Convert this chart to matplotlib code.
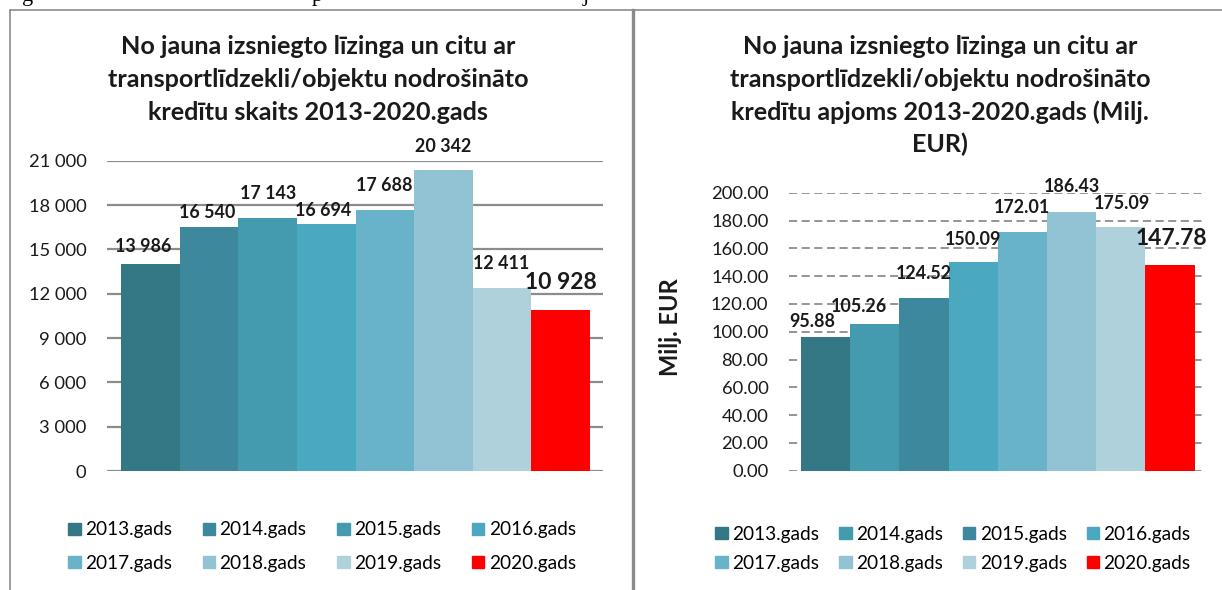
import matplotlib
matplotlib.use("Agg")
import matplotlib.pyplot as plt
from matplotlib.patches import Patch
from matplotlib.lines import Line2D

plt.rcParams["font.family"] = ["Lato", "DejaVu Sans"]

W, H = 1222, 590

years = ["2013.gads", "2014.gads", "2015.gads", "2016.gads",
         "2017.gads", "2018.gads", "2019.gads", "2020.gads"]
count_values = [13986, 16540, 17143, 16694, 17688, 20342, 12411, 10928]
volume_values = [95.88, 105.26, 124.52, 150.09, 172.01, 186.43, 175.09, 147.78]
count_labels = ["13 986", "16 540", "17 143", "16 694", "17 688", "20 342", "12 411", "10 928"]
volume_labels = ["95.88", "105.26", "124.52", "150.09", "172.01", "186.43", "175.09", "147.78"]
count_ticks = [0, 3000, 6000, 9000, 12000, 15000, 18000, 21000]
count_ticklabels = ["0", "3 000", "6 000", "9 000", "12 000", "15 000", "18 000", "21 000"]
volume_ticks = [0, 20, 40, 60, 80, 100, 120, 140, 160, 180, 200]

title_left = ["No jauna izsniegto līzinga un citu ar",
              "transportlīdzekli/objektu nodrošināto",
              "kredītu skaits 2013-2020.gads"]
title_right = ["No jauna izsniegto līzinga un citu ar",
               "transportlīdzekli/objektu nodrošināto",
               "kredītu apjoms 2013-2020.gads (Milj.",
               "EUR)"]

COL_LEFT = ["#347886", "#3d889c", "#449aaf", "#4aa8c0", "#69b3ca", "#92c3d4", "#aed1dc", "#ff0000"]
COL_RIGHT = ["#347886", "#449aaf", "#3d889c", "#4aa8c0", "#69b3ca", "#92c3d4", "#aed1dc", "#ff0000"]
TXT = "#1a1a1a"

# label offsets in pixels (dx, dy) - Excel nudged some of them
OFF_LEFT = [(-7, 18), (-2, 14), (0, 24), (-3, 14), (-1, 24), (0, 24), (-1, 24), (0, 27)]
OFF_RIGHT = [(-13, 16), (-16, 18), (0, 24), (0, 23), (0, 24), (0, 25), (1, 24), (1, 27)]


def box(x0, y0, x1, y1):
    return [x0 / W, 1 - y1 / H, (x1 - x0) / W, (y1 - y0) / H]


fig = plt.figure(figsize=(W / 100, H / 100), dpi=100)
renderer = fig.canvas.get_renderer()


def fit(s, target, **kw):
    # font size that makes string s about target pixels wide
    t = fig.text(0, 0, s, fontsize=10, **kw)
    w = t.get_window_extent(renderer).width
    t.remove()
    return 10 * target / w


fs_title = fit(title_left[1], 422, fontweight="bold")
fs_tick = fit("21 000", 58)
fs_lab = fit("13 986", 56, fontweight="bold")
fs_big = fit("10 928", 72, fontweight="bold")
fs_leg = fit("2013.gads", 86.5)
fs_ylab = fit("Milj. EUR", 98, fontweight="bold")

# frame lines from the document
fig.add_artist(Line2D([10 / W, 1], [1 - 10 / H, 1 - 10 / H], color="#8c8c8c", lw=1.2))
fig.add_artist(Line2D([10 / W, 10 / W], [0, 1 - 10 / H], color="#8c8c8c", lw=1.2))
fig.add_artist(Line2D([633 / W, 633 / W], [0, 1 - 10 / H], color="#8a8a8a", lw=2.4))
for ch, xp in [("g", 22), ("p", 312), ("j", 583)]:
    fig.text(xp / W, 1 - 1 / H, ch, family="Liberation Serif", fontsize=16, va="baseline")

x = list(range(len(years)))
order = [0, 4, 1, 5, 2, 6, 3, 7]  # legend fills columns first


def legend(cols, x0, yc, pitch, rowgap):
    fpx = fs_leg * 100 / 72
    sq = 12.7
    colsp = pitch - 86.5 - sq - 4.3
    fig.legend([Patch(color=cols[i]) for i in order], [years[i] for i in order],
               ncol=4, frameon=False, loc="center left", bbox_to_anchor=(x0 / W, 1 - yc / H),
               fontsize=fs_leg, handlelength=sq / fpx, handleheight=11 / fpx,
               handletextpad=4.3 / fpx, columnspacing=colsp / fpx,
               labelspacing=rowgap / fpx, borderpad=0, borderaxespad=0)


# left chart
ax = fig.add_axes(box(107, 160.7, 603, 471))
ax.bar(x, count_values, width=1.0, color=COL_LEFT, zorder=2)
ax.set_ylim(0, 21000)
ax.set_xlim(-0.74, 7.72)
ax.set_yticks(count_ticks)
ax.set_yticklabels(count_ticklabels)
ax.set_xticks([])
ax.tick_params(axis="y", length=0, pad=14.7, labelsize=fs_tick, colors=TXT)
ax.grid(axis="y", color="#8c8c8c", lw=1.6, zorder=0)
for s in ax.spines.values():
    s.set_visible(False)
for i, (v, lab) in enumerate(zip(count_values, count_labels)):
    big = i == len(count_values) - 1
    ax.annotate(lab, (i, v), textcoords="offset pixels", xytext=OFF_LEFT[i],
                ha="center", va="center", fontweight="bold",
                fontsize=fs_big if big else fs_lab, color=TXT, zorder=4)
for k, line in enumerate(title_left):
    fig.text(318 / W, 1 - (47 + 32.5 * k) / H, line, ha="center", va="center",
             fontsize=fs_title, fontweight="bold", color=TXT)
legend(COL_LEFT, 68, 546.5, 134, 16)

# right chart
ax2 = fig.add_axes(box(788.6, 192.7, 1205, 470.7))
ax2.bar(x, volume_values, width=1.0, color=COL_RIGHT, zorder=2)
ax2.set_ylim(0, 200)
ax2.set_xlim(-0.75, 7.71)
ax2.set_yticks(volume_ticks)
ax2.set_yticklabels([f"{t:.2f}" for t in volume_ticks])
ax2.set_xticks([])
ax2.tick_params(axis="y", length=0, pad=14.5, labelsize=fs_tick, colors=TXT)
ax2.grid(axis="y", color="#8c8c8c", lw=1.3, ls=(0, (4.5, 2.5)), zorder=0)
for s in ax2.spines.values():
    s.set_visible(False)
ax2.set_ylabel("Milj. EUR", fontsize=fs_ylab, fontweight="bold", color=TXT, va="center")
ax2.yaxis.set_label_coords((670 - 788.6) / (1205 - 788.6), (470.7 - 327) / (470.7 - 192.7))
for i, (v, lab) in enumerate(zip(volume_values, volume_labels)):
    big = i == len(volume_values) - 1
    ax2.annotate(lab, (i, v), textcoords="offset pixels", xytext=OFF_RIGHT[i],
                 ha="center", va="center", fontweight="bold",
                 fontsize=fs_big if big else fs_lab, color=TXT, zorder=4)
for k, line in enumerate(title_right):
    fig.text(940 / W, 1 - (47 + 32.5 * k) / H, line, ha="center", va="center",
             fontsize=fs_title, fontweight="bold", color=TXT)
legend(COL_RIGHT, 715, 549, 123.3, 12)

fig.savefig("out.png", dpi=100)
